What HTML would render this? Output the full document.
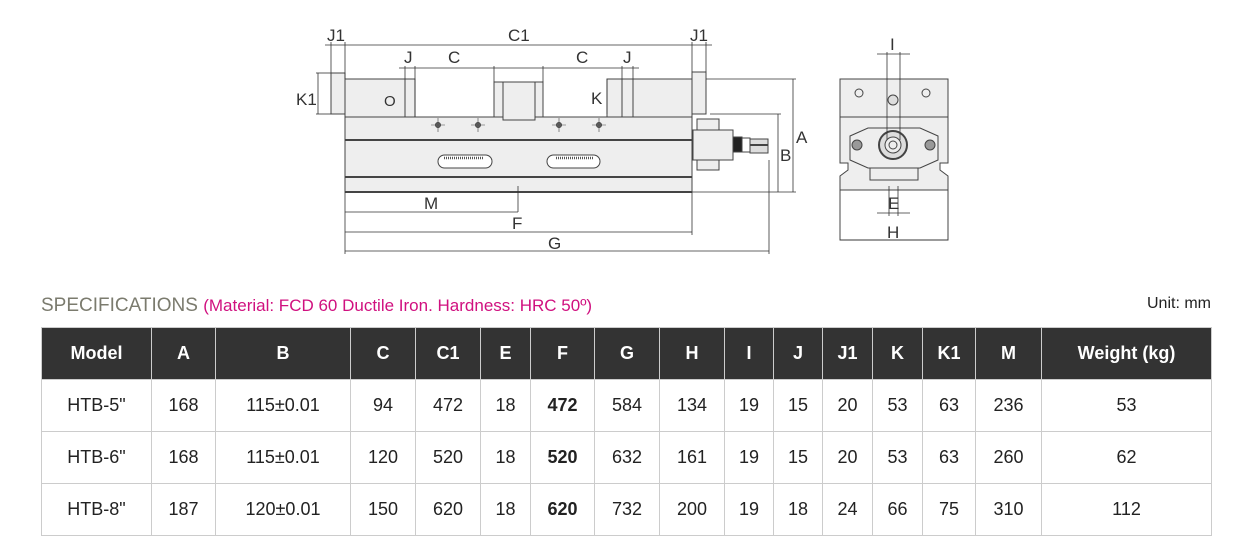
<!DOCTYPE html>
<html><head><meta charset="utf-8">
<style>
html,body{margin:0;padding:0;background:#fff;}
body{width:1246px;height:550px;position:relative;overflow:hidden;font-family:"Liberation Sans",Arial,sans-serif;}
svg{position:absolute;left:0;top:0;}
.title{position:absolute;left:41px;top:295px;font-size:19px;color:#7b7b6e;white-space:nowrap;}
.title span{color:#d0107f;font-size:17px;}
.unit{position:absolute;right:35px;top:295px;font-size:16px;color:#222;}
table{position:absolute;left:41px;top:327px;border-collapse:collapse;table-layout:fixed;width:1170px;}
td,th{border:1px solid #ccc;text-align:center;font-size:18px;padding:0;color:#222;}
th{background:#333;color:#fff;height:51px;font-weight:bold;border-color:#ccc;}
td{height:51px;}
td b{font-weight:bold;}
</style></head><body>
<svg width="1246" height="550" viewBox="0 0 1246 550" font-family="Liberation Sans, Arial, sans-serif" font-size="17" fill="none" stroke="#444" stroke-width="1">
<rect x="345" y="117" width="347" height="75" fill="#eee"/>
<line x1="345" y1="140" x2="692" y2="140" stroke-width="2"/>
<line x1="345" y1="177" x2="692" y2="177" stroke-width="2"/>
<line x1="345" y1="192" x2="692" y2="192" stroke-width="2"/>
<rect x="331" y="73" width="14" height="41" fill="#eee"/>
<rect x="345" y="79" width="70" height="38" fill="#eee"/>
<line x1="405" y1="79" x2="405" y2="117"/>
<rect x="494" y="82" width="49" height="35" fill="#eee"/>
<rect x="503" y="82" width="32" height="38" fill="#eee"/>
<rect x="607" y="79" width="85" height="38" fill="#eee"/>
<line x1="622" y1="79" x2="622" y2="117"/><line x1="633" y1="79" x2="633" y2="117"/>
<rect x="692" y="72" width="14" height="42" fill="#eee"/>
<g fill="#666"><circle cx="438" cy="125" r="2.5"/><circle cx="478" cy="125" r="2.5"/><circle cx="559" cy="125" r="2.5"/><circle cx="599" cy="125" r="2.5"/></g>
<g stroke-width="0.6"><path d="M431 125h14M438 118v14M471 125h14M478 118v14M552 125h14M559 118v14M592 125h14M599 118v14"/></g>
<rect x="438" y="155" width="54" height="13" rx="6.5" fill="#fff"/>
<rect x="547" y="155" width="53" height="13" rx="6.5" fill="#fff"/>
<path d="M444 158h40M556 158h38" stroke="#555" stroke-width="2.5" stroke-dasharray="1 1"/>
<rect x="697" y="119" width="22" height="51" fill="#eee"/>
<rect x="693" y="130" width="40" height="30" fill="#eee"/>
<rect x="733" y="137" width="9" height="15" fill="#222"/>
<rect x="742" y="138" width="8" height="14" fill="#fff"/>
<rect x="750" y="139" width="18" height="14" fill="#ddd"/>
<line x1="750" y1="145" x2="768" y2="145" stroke-width="2"/>
<g stroke="#333" stroke-width="0.8">
<line x1="325" y1="45" x2="712" y2="45"/>
<line x1="331" y1="42" x2="331" y2="73"/><line x1="345" y1="42" x2="345" y2="79"/>
<line x1="692" y1="42" x2="692" y2="72"/><line x1="706" y1="42" x2="706" y2="72"/>
<line x1="399" y1="68" x2="639" y2="68"/>
<line x1="405" y1="66" x2="405" y2="79"/><line x1="415" y1="66" x2="415" y2="117"/>
<line x1="494" y1="66" x2="494" y2="82"/><line x1="543" y1="66" x2="543" y2="82"/>
<line x1="622" y1="66" x2="622" y2="79"/><line x1="633" y1="66" x2="633" y2="79"/>
<line x1="318" y1="73" x2="318" y2="114"/><line x1="316" y1="73" x2="331" y2="73"/><line x1="316" y1="114" x2="331" y2="114"/>
<line x1="607" y1="79" x2="607" y2="114"/>
<line x1="706" y1="79" x2="796" y2="79"/><line x1="692" y1="192" x2="796" y2="192"/>
<line x1="793" y1="79" x2="793" y2="192"/>
<line x1="710" y1="114" x2="781" y2="114"/><line x1="778" y1="114" x2="778" y2="192"/>
<line x1="345" y1="192" x2="345" y2="254"/><line x1="692" y1="192" x2="692" y2="235"/><line x1="769" y1="160" x2="769" y2="254"/>
<line x1="518" y1="186" x2="518" y2="212"/>
<line x1="345" y1="212" x2="518" y2="212"/><line x1="345" y1="232" x2="692" y2="232"/><line x1="345" y1="251" x2="769" y2="251"/>
</g>
<g fill="#333" stroke="none">
<text x="327" y="41">J1</text><text x="508" y="41">C1</text><text x="690" y="41">J1</text>
<text x="404" y="63">J</text><text x="448" y="63">C</text><text x="576" y="63">C</text><text x="623" y="63">J</text>
<text x="296" y="105">K1</text><text x="591" y="104">K</text><text x="384" y="106" font-size="15">O</text>
<text x="796" y="143">A</text><text x="780" y="161">B</text>
<text x="424" y="209">M</text><text x="512" y="229">F</text><text x="548" y="249">G</text>
</g>
<rect x="840" y="79" width="108" height="38" fill="#eee"/>
<polygon points="840,117 948,117 948,163 940,163 940,170 948,176 948,190 840,190 840,176 848,170 848,163 840,163" fill="#eee"/>
<polygon points="850,136 868,128 920,128 938,136 938,160 920,168 868,168 850,160" fill="#eee"/>
<rect x="870" y="168" width="48" height="12" fill="#eee"/>
<rect x="840" y="190" width="108" height="50" fill="#fff"/>
<circle cx="893" cy="145" r="14" fill="#ddd" stroke-width="2"/><circle cx="893" cy="145" r="8" fill="#eee"/><circle cx="893" cy="145" r="4"/>
<circle cx="857" cy="145" r="5" fill="#999"/><circle cx="930" cy="145" r="5" fill="#999"/>
<circle cx="859" cy="93" r="4" fill="#eee"/><circle cx="926" cy="93" r="4" fill="#eee"/><circle cx="893" cy="100" r="5" fill="#ddd"/>
<g stroke="#333" stroke-width="0.8">
<line x1="887" y1="52" x2="887" y2="140"/><line x1="900" y1="52" x2="900" y2="140"/>
<line x1="877" y1="54" x2="910" y2="54"/>
<line x1="889" y1="186" x2="889" y2="216"/><line x1="898" y1="186" x2="898" y2="216"/>
<line x1="877" y1="213" x2="910" y2="213"/>
<line x1="840" y1="240" x2="948" y2="240"/>
</g>
<g fill="#333" stroke="none"><text x="890" y="50">I</text><text x="888" y="209">E</text><text x="887" y="238">H</text></g>
</svg>
<div class="title">SPECIFICATIONS <span>(Material: FCD 60 Ductile Iron. Hardness: HRC 50º)</span></div>
<div class="unit">Unit: mm</div>
<table>
<colgroup><col style="width:110px"><col style="width:64px"><col style="width:135px"><col style="width:65px"><col style="width:65px"><col style="width:50px"><col style="width:64px"><col style="width:65px"><col style="width:65px"><col style="width:49px"><col style="width:49px"><col style="width:50px"><col style="width:50px"><col style="width:53px"><col style="width:66px"><col style="width:170px"></colgroup>
<tr><th>Model</th><th>A</th><th>B</th><th>C</th><th>C1</th><th>E</th><th>F</th><th>G</th><th>H</th><th>I</th><th>J</th><th>J1</th><th>K</th><th>K1</th><th>M</th><th>Weight (kg)</th></tr>
<tr><td>HTB-5"</td><td>168</td><td>115±0.01</td><td>94</td><td>472</td><td>18</td><td><b>472</b></td><td>584</td><td>134</td><td>19</td><td>15</td><td>20</td><td>53</td><td>63</td><td>236</td><td>53</td></tr>
<tr><td>HTB-6"</td><td>168</td><td>115±0.01</td><td>120</td><td>520</td><td>18</td><td><b>520</b></td><td>632</td><td>161</td><td>19</td><td>15</td><td>20</td><td>53</td><td>63</td><td>260</td><td>62</td></tr>
<tr><td>HTB-8"</td><td>187</td><td>120±0.01</td><td>150</td><td>620</td><td>18</td><td><b>620</b></td><td>732</td><td>200</td><td>19</td><td>18</td><td>24</td><td>66</td><td>75</td><td>310</td><td>112</td></tr>
</table>
</body></html>
